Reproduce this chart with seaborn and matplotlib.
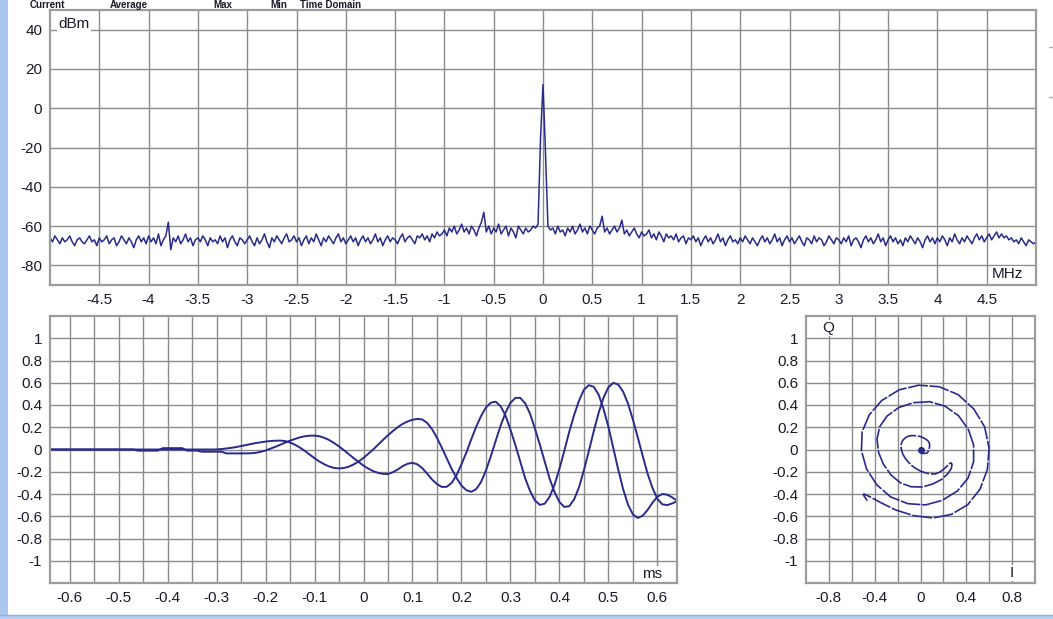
import numpy as np
import seaborn as sns
import matplotlib.pyplot as plt
from matplotlib.ticker import FixedLocator, FuncFormatter
from matplotlib.patches import Rectangle
from matplotlib.lines import Line2D

# spectrum: 401 points, -5 .. 5 MHz (0.025 MHz apart), dBm
freq_mhz = np.linspace(-5, 5, 401)
level_dbm = [
    -66, -68, -65, -67, -69, -66, -68, -67, -65, -68, -70, -67, -66, -68, -69, -67, -65, -68, -67, -70,
    -66, -68, -67, -65, -69, -67, -66, -70, -68, -65, -67, -69, -66, -68, -71, -67, -65, -68, -66, -69,
    -65, -68, -66, -69, -64, -70, -67, -65, -58, -72, -66, -68, -65, -69, -67, -64, -68, -66, -70, -67,
    -66, -68, -65, -67, -70, -66, -68, -67, -69, -65, -68, -66, -71, -67, -65, -68, -70, -66, -67, -69,
    -67, -65, -68, -70, -66, -69, -67, -64, -68, -71, -66, -68, -65, -67, -69, -66, -64, -68, -67, -65,
    -68, -66, -70, -67, -65, -69, -66, -68, -64, -67, -70, -66, -68, -65, -67, -69, -66, -64, -68, -66,
    -69, -67, -65, -68, -66, -70, -67, -65, -68, -66, -69, -67, -64, -68, -66, -70, -67, -65, -68, -66,
    -67, -69, -66, -64, -68, -66, -65, -67, -69, -65, -66, -64, -67, -65, -68, -64, -66, -63, -65, -64,
    -62, -65, -61, -63, -60, -64, -62, -59, -63, -61, -64, -60, -62, -65, -61, -58, -53, -63, -60, -64,
    -61, -63, -59, -64, -62, -60, -65, -61, -63, -66, -60, -62, -64, -61, -63, -62, -60, -61, -59, -15,
    12, -22, -60, -62, -61, -64, -60, -63, -62, -65, -61, -63, -60, -64, -62, -59, -63, -61, -64, -60,
    -62, -64, -61, -60, -55, -63, -61, -64, -62, -60, -63, -61, -57, -64, -62, -65, -63, -61, -64, -66,
    -63, -65, -64, -62, -66, -64, -67, -63, -65, -68, -64, -66, -65, -67, -64, -68, -66, -65, -69, -66,
    -67, -65, -68, -66, -70, -67, -65, -68, -66, -69, -67, -64, -68, -66, -70, -67, -65, -68, -67, -69,
    -66, -68, -65, -67, -69, -66, -68, -70, -67, -65, -68, -66, -69, -67, -64, -68, -66, -70, -67, -65,
    -68, -66, -69, -67, -65, -68, -70, -66, -67, -69, -65, -68, -66, -67, -70, -68, -65, -67, -69, -66,
    -67, -69, -66, -68, -65, -70, -67, -66, -68, -71, -67, -65, -68, -66, -69, -67, -64, -68, -66, -70,
    -67, -65, -68, -66, -69, -67, -70, -66, -68, -65, -67, -69, -66, -68, -71, -67, -65, -68, -66, -69,
    -66, -68, -65, -67, -70, -66, -68, -64, -67, -69, -66, -68, -65, -67, -69, -66, -64, -67, -65, -68,
    -66, -64, -67, -65, -63, -66, -64, -66, -65, -67, -66, -68, -67, -69, -66, -68, -70, -67, -68, -69,
    -68,
]

# time domain: 129 samples, -0.64 .. 0.64 ms (0.01 ms apart)
time_ms = np.linspace(-0.64, 0.64, 129)
i_val = [0.0] * 34 + [
    0.001, 0.004, 0.009, 0.015, 0.022, 0.031, 0.040, 0.049, 0.058, 0.065,
    0.071, 0.076, 0.079, 0.080, 0.076, 0.063, 0.043, 0.018, -0.012, -0.045,
    -0.078, -0.108, -0.133, -0.153, -0.166, -0.170, -0.166, -0.154, -0.134, -0.108,
    -0.076, -0.038, 0.001, 0.044, 0.087, 0.128, 0.166, 0.201, 0.230, 0.252,
    0.267, 0.275, 0.270, 0.239, 0.183, 0.105, 0.015, -0.081, -0.175, -0.256,
    -0.324, -0.366, -0.380, -0.357, -0.292, -0.188, -0.060, 0.080, 0.215, 0.332,
    0.419, 0.464, 0.464, 0.415, 0.322, 0.188, 0.044, -0.111, -0.263, -0.383,
    -0.472, -0.516, -0.510, -0.448, -0.339, -0.185, -0.015, 0.164, 0.329, 0.466,
    0.560, 0.599, 0.584, 0.520, 0.413, 0.268, 0.108, -0.058, -0.218, -0.346,
    -0.444, -0.493, -0.500, -0.485, -0.465,
]
q_val = [0.0] * 18 + [-0.01] * 5 + [0.012] * 5 + [-0.01] * 3 + [-0.02] * 5 + [-0.035] * 5 + [
    -0.034, -0.030, -0.021, -0.009, 0.007, 0.024, 0.043, 0.062, 0.080, 0.095,
    0.109, 0.119, 0.124, 0.125, 0.119, 0.105, 0.085, 0.058, 0.028, -0.006,
    -0.042, -0.078, -0.111, -0.145, -0.172, -0.195, -0.210, -0.219, -0.220, -0.204,
    -0.179, -0.150, -0.128, -0.120, -0.133, -0.168, -0.217, -0.270, -0.311, -0.337,
    -0.335, -0.300, -0.231, -0.133, -0.027, 0.092, 0.204, 0.301, 0.378, 0.421,
    0.430, 0.389, 0.304, 0.178, 0.041, -0.110, -0.258, -0.373, -0.458, -0.498,
    -0.487, -0.425, -0.316, -0.173, -0.011, 0.159, 0.310, 0.440, 0.537, 0.578,
    0.564, 0.493, 0.364, 0.204, 0.011, -0.180, -0.356, -0.496, -0.584, -0.615,
    -0.595, -0.543, -0.478, -0.424, -0.400, -0.406, -0.430, -0.460,
]

legend_items = ["Current", "Average", "Max", "Min", "Time Domain"]

sns.set_style("white")
plt.rcParams["font.family"] = ["Liberation Sans", "DejaVu Sans"]
plt.rcParams["axes.unicode_minus"] = False

TRACE = "#2a2a8c"
GRID = "#8c8c8c"
FRAME = "#9c9c9c"
TXT = "#1a1a2a"
W, H = 1053, 619


def label_fmt(v, pos):
    s = f"{v:g}"
    return "0" if s == "-0" else s


def style_axes(ax):
    ax.set_axisbelow(True)
    ax.grid(True, which="both", color=GRID, linewidth=1.0)
    for sp in ax.spines.values():
        sp.set_color(FRAME)
        sp.set_linewidth(1.6)
    ax.tick_params(which="major", direction="out", length=4, width=1, color=GRID,
                   labelsize=11, labelcolor=TXT, pad=1.5)
    ax.tick_params(which="minor", length=0)
    ax.xaxis.set_major_formatter(FuncFormatter(label_fmt))
    ax.yaxis.set_major_formatter(FuncFormatter(label_fmt))
    ax.set_xlabel("")
    ax.set_ylabel("")


def box(px_left, px_top, px_right, px_bottom):
    return [px_left / W, 1 - px_bottom / H, (px_right - px_left) / W, (px_bottom - px_top) / H]


def tag(ax, x, y, s):
    ax.text(x, y, s, transform=ax.transAxes, fontsize=11, color=TXT, va="center", ha="center",
            bbox=dict(fc="white", ec="none", pad=1))


fig = plt.figure(figsize=(W / 100, H / 100), dpi=100)
fig.patch.set_facecolor("white")

# spectrum
ax1 = fig.add_axes(box(50, 10, 1036, 285))
sns.lineplot(x=freq_mhz, y=level_dbm, ax=ax1, color=TRACE, linewidth=1.1, estimator=None)
ax1.set_xlim(-5, 5)
ax1.set_ylim(-90, 50)
ax1.xaxis.set_major_locator(FixedLocator(np.arange(-4.5, 4.6, 0.5)))
ax1.yaxis.set_major_locator(FixedLocator(np.arange(-80, 41, 20)))
style_axes(ax1)
tag(ax1, 0.024, 0.95, "dBm")
tag(ax1, 0.971, 0.04, "MHz")

# time domain
ax2 = fig.add_axes(box(50, 316, 677, 583))
sns.lineplot(x=time_ms, y=i_val, ax=ax2, color=TRACE, linewidth=1.4, estimator=None)
sns.lineplot(x=time_ms, y=q_val, ax=ax2, color=TRACE, linewidth=1.4, estimator=None)
ax2.set_xlim(-0.64, 0.64)
ax2.set_ylim(-1.2, 1.2)
ax2.xaxis.set_major_locator(FixedLocator(np.arange(-6, 7) / 10))
ax2.xaxis.set_minor_locator(FixedLocator(np.arange(-5.5, 6, 1) / 10))
ax2.yaxis.set_major_locator(FixedLocator(np.arange(-5, 6) / 5))
style_axes(ax2)
tag(ax2, 0.96, 0.034, "ms")

# constellation
ax3 = fig.add_axes(box(806, 316, 1035, 583))
sns.lineplot(x=i_val, y=q_val, ax=ax3, color=TRACE, linewidth=1.2, sort=False, estimator=None)
ax3.lines[-1].set_dashes((12, 1.0))
ax3.scatter([i_val[0]], [q_val[0]], s=16, color=TRACE, zorder=3)
ax3.set_xlim(-1, 1)
ax3.set_ylim(-1.2, 1.2)
ax3.xaxis.set_major_locator(FixedLocator([-0.8, -0.4, 0, 0.4, 0.8]))
ax3.xaxis.set_minor_locator(FixedLocator([-0.6, -0.2, 0.2, 0.6]))
ax3.yaxis.set_major_locator(FixedLocator(np.arange(-5, 6) / 5))
style_axes(ax3)
tag(ax3, 0.096, 0.955, "Q")
tag(ax3, 0.9, 0.037, "I")

# window chrome
fig.patches.append(Rectangle((0, 0), 8 / W, 1, transform=fig.transFigure,
                             fc="#aac6ec", ec="none", zorder=0))
fig.patches.append(Rectangle((0, 0), 1, 4 / H, transform=fig.transFigure,
                             fc="#b4cdf0", ec="none", zorder=0))
fig.lines.append(Line2D([0, 1], [4 / H, 4 / H], transform=fig.transFigure,
                        color="#8fb0e0", linewidth=1))
for yy in (47, 97):
    fig.lines.append(Line2D([1049 / W, 1053 / W], [1 - yy / H] * 2, transform=fig.transFigure,
                            color="#b0b0b0", linewidth=1))

# legend row along the top edge (cut off in the source screenshot)
for name, px in zip(legend_items, [30, 110, 213, 270, 300]):
    fig.text(px / W, 1 - 0.5 / H, name, fontsize=7, fontweight="bold", color=TXT,
             ha="left", va="top")

fig.savefig("out.png", dpi=100, facecolor="white")
